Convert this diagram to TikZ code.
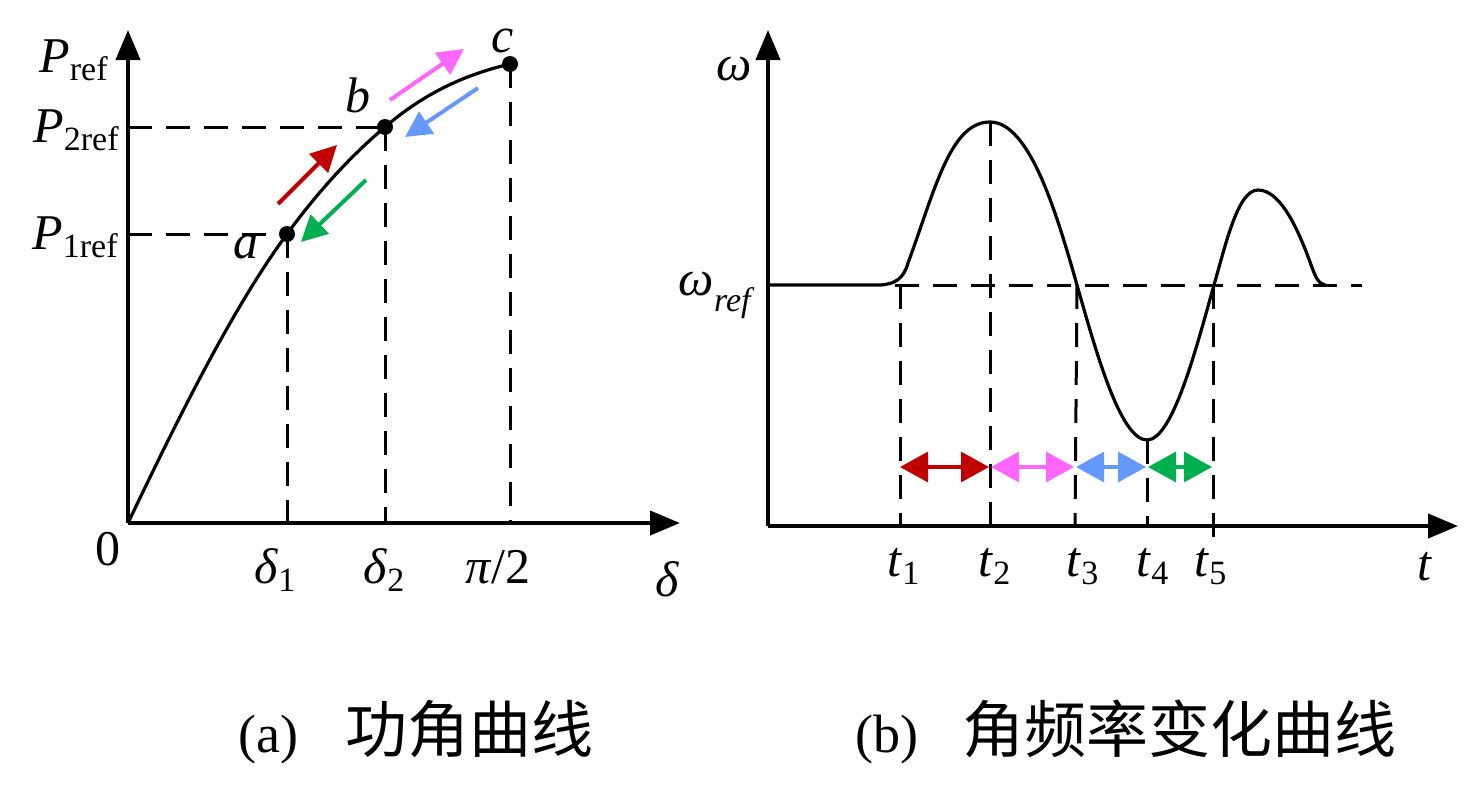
\documentclass[tikz,border=0pt]{standalone}
\usepackage{fontspec}
\setmainfont{LiberationSerif}[Extension=.ttf,UprightFont=*-Regular,ItalicFont=*-Italic,BoldFont=*-Bold,BoldItalicFont=*-BoldItalic]
\newfontfamily\cjk{Noto Sans CJK SC}
\usetikzlibrary{arrows.meta}
\definecolor{cred}{RGB}{192,0,0}
\definecolor{cmag}{RGB}{255,102,255}
\definecolor{cblue}{RGB}{102,153,255}
\definecolor{cgreen}{RGB}{0,176,80}
\newcommand{\lbl}{\fontsize{25}{28}\selectfont}
\newcommand{\sbl}{\fontsize{17}{19}\selectfont}
\newcommand{\sub}[1]{\raisebox{-4pt}{\sbl #1}}
\begin{document}
\begin{tikzpicture}[x=0.5pt,y=-0.5pt,
  axis/.style={line width=2pt,-{Triangle[length=15pt,width=12pt]}},
  curve/.style={line width=1.6pt},
  guide/.style={line width=1.5pt,dash pattern=on 12pt off 7pt},
  dot/.style={circle,fill=black,inner sep=0pt,minimum size=8pt},
  lab/.style={inner sep=0pt,font=\lbl},
  sarrow/.style={line width=2pt,-{Triangle[length=13pt,width=13pt]}},
  darrow/.style={line width=1.6pt,{Triangle[length=14pt,width=15pt]}-{Triangle[length=14pt,width=15pt]}},
  captext/.style={inner sep=0pt,anchor=base west,font=\fontsize{27}{30}\selectfont},
  capcjk/.style={inner sep=0pt,anchor=base west,font=\cjk\fontsize{31}{32}\selectfont}]
\useasboundingbox (0,0) rectangle (1482,787);
% ---------- (a) ----------
\coordinate (O1) at (128,523);
\coordinate (Y1) at (128,30);
\coordinate (X1) at (680,523);
\draw[axis] (O1) -- (Y1);
\draw[axis] (O1) -- (X1);
\node[dot] (a) at (287,234) {};
\node[dot] (b) at (385,127) {};
\node[dot] (c) at (510,64) {};
\coordinate (ya) at (128,234);
\coordinate (yb) at (128,127);
\coordinate (xa) at (287,523);
\coordinate (xb) at (385,523);
\coordinate (xc) at (510,523);
\draw[guide] (ya) -- (a.center);
\draw[guide] (yb) -- (b.center);
\draw[guide] (a.center) -- (xa);
\draw[guide] (b.center) -- (xb);
\draw[guide] (c.center) -- (xc);
\draw[curve] (O1) .. controls (181,412) and (234,306) .. (a.center)
  .. controls (320,189) and (352,155) .. (b.center)
  .. controls (427,91) and (468,74) .. (c.center);
% small arrows
\coordinate (r1) at (278,204); \coordinate (r2) at (337,145);
\coordinate (g1) at (366,180); \coordinate (g2) at (301,242);
\coordinate (m1) at (390,100); \coordinate (m2) at (464,49);
\coordinate (u1) at (478,88);  \coordinate (u2) at (405,137);
\draw[sarrow,cred] (r1) -- (r2);
\draw[sarrow,cgreen] (g1) -- (g2);
\draw[sarrow,cmag] (m1) -- (m2);
\draw[sarrow,cblue] (u1) -- (u2);
% labels
\node[lab,anchor=base east] (lPref) at (108,72) {\textit{P}\sub{ref}};
\node[lab,anchor=base east] (lP2) at (119,142) {\textit{P}\sub{2ref}};
\node[lab,anchor=base east] (lP1) at (118,249) {\textit{P}\sub{1ref}};
\node[lab,anchor=base] (la) at (246,258) {\textit{a}};
\node[lab,anchor=base] (lb) at (358,112) {\textit{b}};
\node[lab,anchor=base] (lc) at (503,52) {\textit{c}};
\node[lab,anchor=base] (l0) at (108,565) {0};
\node[lab,anchor=base] (ld1) at (275,583) {\textit{δ}\sub{1}};
\node[lab,anchor=base] (ld2) at (384,583) {\textit{δ}\sub{2}};
\node[lab,anchor=base] (lpi) at (498,583) {\textit{π}/2};
\node[lab,anchor=base] (ld) at (667,596) {\textit{δ}};
% ---------- (b) ----------
\coordinate (O2) at (768,526);
\coordinate (Y2) at (768,30);
\coordinate (X2) at (1458,526);
\draw[axis] (O2) -- (Y2);
\draw[axis] (O2) -- (X2);
\coordinate (wr0) at (768,285);
\coordinate (k0) at (878,285);
\coordinate (k1) at (908,263);
\coordinate (p1) at (990,122);
\coordinate (z1) at (1077,285);
\coordinate (m4) at (1147,440);
\coordinate (z2) at (1214,285);
\coordinate (p2) at (1258,190);
\coordinate (k2) at (1310,262);
\coordinate (e1) at (1325,285);
\coordinate (wd0) at (895,285);
\coordinate (wd1) at (1362,285);
\draw[guide] (wd0) -- (wd1);
\draw[curve] (wr0) -- (k0) .. controls (895,285) and (904,278) .. (k1)
  .. controls (935,190) and (950,122) .. (p1)
  .. controls (1030,122) and (1057,215) .. (z1)
  .. controls (1095,348) and (1120,440) .. (m4)
  .. controls (1173,440) and (1197,345) .. (z2)
  .. controls (1226,243) and (1238,190) .. (p2)
  .. controls (1282,190) and (1300,235) .. (k2)
  .. controls (1315,276) and (1318,284) .. (e1);
% vertical guides
\coordinate (t1a) at (900,285); \coordinate (t1b) at (900,526);
\coordinate (t2b) at (990,526);
\coordinate (t3b) at (1075,526);
\coordinate (t4b) at (1147,526);
\coordinate (t5a) at (1213,285); \coordinate (t5b) at (1213,548);
\draw[guide] (t1a) -- (t1b);
\draw[guide] (p1) -- (t2b);
\draw[guide] (z1) -- (t3b);
\draw[guide] (m4) -- (t4b);
\draw[guide] (t5a) -- (t5b);
% double arrows
\coordinate (d1) at (900,467); \coordinate (d2) at (989,467);
\coordinate (d3) at (991,467); \coordinate (d4) at (1074,467);
\coordinate (d5) at (1076,467); \coordinate (d6) at (1146,467);
\coordinate (d7) at (1148,467); \coordinate (d8) at (1212,467);
\draw[darrow,cred] (d1) -- (d2);
\draw[darrow,cmag] (d3) -- (d4);
\draw[darrow,cblue] (d5) -- (d6);
\draw[darrow,cgreen] (d7) -- (d8);
% labels
\node[lab,anchor=base] (lw) at (734,80) {\textit{ω}};
\node[lab,anchor=base east] (lwr) at (755,295) {\textit{ω}\raisebox{-8pt}{\sbl\textit{ref}}};
\node[lab,anchor=base west] (lt1) at (887,576) {\textit{t}\sub{1}};
\node[lab,anchor=base west] (lt2) at (978,576) {\textit{t}\sub{2}};
\node[lab,anchor=base west] (lt3) at (1066,576) {\textit{t}\sub{3}};
\node[lab,anchor=base west] (lt4) at (1136,576) {\textit{t}\sub{4}};
\node[lab,anchor=base west] (lt5) at (1194,576) {\textit{t}\sub{5}};
\node[lab,anchor=base] (lt) at (1425,580) {\textit{t}};
% captions
\node[captext] (capa) at (238,752) {(a)};
\node[capcjk] (capa2) at (345,752) {功角曲线};
\node[captext] (capb) at (855,752) {(b)};
\node[capcjk] (capb2) at (962,752) {角频率变化曲线};
\end{tikzpicture}
\end{document}
